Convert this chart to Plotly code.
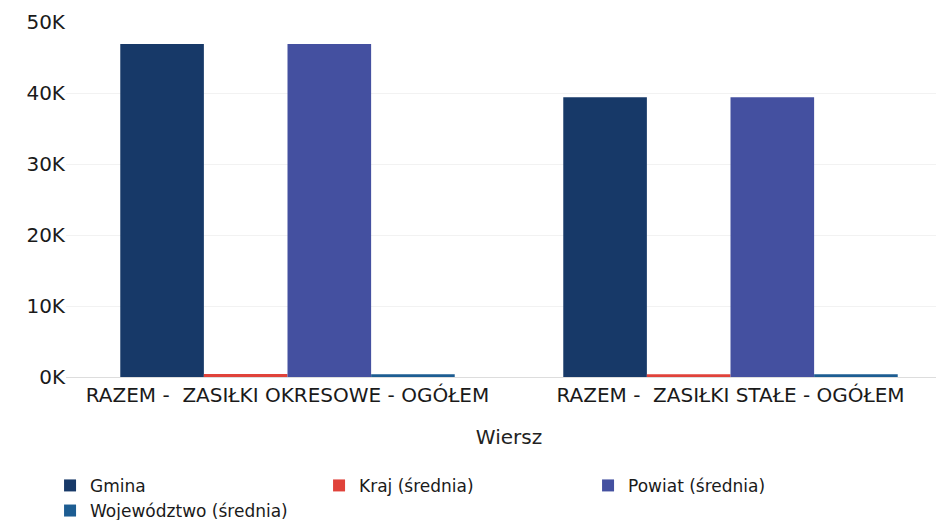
import plotly.graph_objects as go

categories = ["RAZEM -  ZASIŁKI OKRESOWE - OGÓŁEM", "RAZEM -  ZASIŁKI STAŁE - OGÓŁEM"]
series_names = ["Gmina", "Kraj (średnia)", "Powiat (średnia)", "Województwo (średnia)"]
gmina = [46900, 39400]
kraj = [420, 380]
powiat = [46900, 39400]
wojewodztwo = [400, 380]
colors = ["#173968", "#e0423a", "#4450a0", "#1d5d92"]
tick_vals = [0, 10000, 20000, 30000, 40000, 50000]
tick_text = ["0K", "10K", "20K", "30K", "40K", "50K"]

fig = go.Figure()
for name, vals, col in zip(series_names, [gmina, kraj, powiat, wojewodztwo], colors):
    fig.add_trace(go.Bar(name=name, x=categories, y=vals, marker_color=col,
                         marker_line_width=0))

fig.update_layout(
    width=944, height=520,
    paper_bgcolor="white", plot_bgcolor="white",
    font=dict(family="DejaVu Sans", size=20, color="#222"),
    barmode="group", bargap=0.245, bargroupgap=0,
    margin=dict(l=58, r=0, t=14, b=151, autoexpand=False),
    xaxis=dict(title=dict(text="Wiersz", font=dict(family="DejaVu Sans", size=20), standoff=23),
               showline=True, linecolor="#ddd",
               tickfont=dict(family="DejaVu Sans", size=20, color="#1a1a1a")),
    yaxis=dict(range=[0, 50000], tickvals=tick_vals, ticktext=tick_text,
               showgrid=True, gridcolor="#f2f2f2", zeroline=False,
               tickfont=dict(family="DejaVu Sans", size=20, color="#1a1a1a"), ticksuffix=" "),
    legend=dict(orientation="h", x=-0.018, y=-0.256, xanchor="left", yanchor="top",
                entrywidth=224, entrywidthmode="pixels",
                font=dict(family="DejaVu Sans", size=17, color="#1a1a1a"),
                tracegroupgap=0),
    showlegend=True,
)
fig.write_html("out.html")
